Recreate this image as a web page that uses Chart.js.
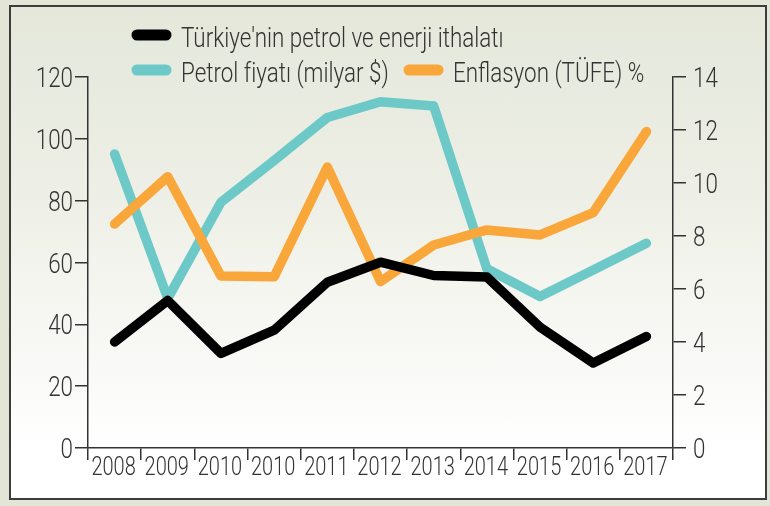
<!DOCTYPE html>
<html lang="tr">
<head>
  <meta charset="UTF-8">
  <title>Petrol, enerji ithalatı ve enflasyon</title>
  <script src="https://cdn.jsdelivr.net/npm/chart.js"></script>
  <style>
    html, body { margin: 0; padding: 0; }
    body { width: 770px; height: 506px; background: #e3e5d7; position: relative; overflow: hidden; }
    #frame {
      position: absolute; left: 9px; top: 5px; width: 758px; height: 495px;
      box-sizing: border-box; border: 2px solid #3c3c3c;
      background: linear-gradient(to bottom, #e4e7da 0%, #eef0e7 40%, #f8f9f5 70%, #ffffff 90%);
    }
    #chart { position: absolute; left: 0; top: 0; }
  </style>
</head>
<body>
<div id="frame"></div>
<canvas id="chart" width="770" height="506"></canvas>
<script>
  // values
  const years = ['2008', '2009', '2010', '2010', '2011', '2012', '2013', '2014', '2015', '2016', '2017'];
  const ithalat = [34.3, 47.7, 30.6, 38.1, 53.6, 60.1, 55.8, 55.3, 39.1, 27.5, 36.1];
  const petrolFiyati = [95.1, 48.4, 79.5, 93.0, 106.9, 112.0, 110.6, 58.0, 49.0, 57.6, 66.2];
  const enflasyon = [8.45, 10.24, 6.49, 6.46, 10.6, 6.28, 7.66, 8.23, 8.04, 8.88, 11.94];
  const leftTicks = [0, 20, 40, 60, 80, 100, 120];
  const rightTicks = [0, 2, 4, 6, 8, 10, 12, 14];

  const FONT = "Roboto, 'DejaVu Sans', sans-serif";
  const TEXT = '#333333';
  const AXIS = '#333333';
  const SQUEEZE = 0.8;   // the print uses a narrow face

  // draw text squeezed horizontally
  function narrowText(ctx, str, x, y, size, align) {
    ctx.save();
    ctx.font = '300 ' + size + 'px ' + FONT;
    ctx.fillStyle = TEXT;
    ctx.textBaseline = 'alphabetic';
    ctx.textAlign = align;
    ctx.translate(x, y);
    ctx.scale(SQUEEZE, 1);
    ctx.fillText(str, 0, 0);
    ctx.restore();
  }

  // two-row legend like the printed one
  const legendSpots = [
    { x: 131, y: 35 },
    { x: 131, y: 70 },
    { x: 403, y: 70 }
  ];
  const legendPlugin = {
    id: 'rowLegend',
    afterDraw(chart) {
      const ctx = chart.ctx;
      chart.data.datasets.forEach((ds, i) => {
        const p = legendSpots[i];
        ctx.save();
        ctx.strokeStyle = ds.borderColor;
        ctx.lineWidth = 11;
        ctx.lineCap = 'round';
        ctx.beginPath();
        ctx.moveTo(p.x + 6, p.y);
        ctx.lineTo(p.x + 35, p.y);
        ctx.stroke();
        ctx.restore();
        narrowText(ctx, ds.label, p.x + 50, p.y + 12, 28, 'left');
      });
    }
  };

  // tick labels, placed by the scales
  const tickLabelPlugin = {
    id: 'tickLabels',
    afterDraw(chart) {
      const ctx = chart.ctx;
      const sx = chart.scales.x, sy = chart.scales.y, sy1 = chart.scales.y1;
      years.forEach((lab, i) => {
        narrowText(ctx, lab, sx.getPixelForTick(i) - 1, sx.top + 27, 25, 'center');
      });
      leftTicks.forEach(v => {
        narrowText(ctx, String(v), sy.right - 15, sy.getPixelForValue(v) + 10, 28, 'right');
      });
      rightTicks.forEach(v => {
        narrowText(ctx, String(v), sy1.left + 20, sy1.getPixelForValue(v) + 10, 28, 'left');
      });
    }
  };

  const lineStyle = { borderWidth: 9.5, pointRadius: 0, borderCapStyle: 'round', borderJoinStyle: 'round', tension: 0, fill: false };

  new Chart(document.getElementById('chart'), {
    type: 'line',
    data: {
      labels: years,
      datasets: [
        Object.assign({ label: "Türkiye'nin petrol ve enerji ithalatı", data: ithalat, borderColor: '#000000', yAxisID: 'y', order: 1 }, lineStyle),
        Object.assign({ label: 'Petrol fiyatı (milyar $)', data: petrolFiyati, borderColor: '#6cc9c7', yAxisID: 'y', order: 3 }, lineStyle),
        Object.assign({ label: 'Enflasyon (TÜFE) %', data: enflasyon, borderColor: '#f9a73a', yAxisID: 'y1', order: 2 }, lineStyle)
      ]
    },
    options: {
      responsive: false,
      animation: false,
      devicePixelRatio: 1,
      layout: { padding: { top: 77, left: 0, right: 0, bottom: 0 } },
      plugins: { legend: { display: false }, tooltip: { enabled: false } },
      scales: {
        x: {
          offset: true,
          grid: { offset: true, drawOnChartArea: false, drawTicks: true, tickLength: 12, color: AXIS, lineWidth: 1.5 },
          border: { display: true, color: AXIS, width: 1.5 },
          ticks: { display: false, autoSkip: false },
          afterFit: s => { s.height = 58; }
        },
        y: {
          position: 'left',
          min: 0, max: 120,
          afterBuildTicks: s => { s.ticks = leftTicks.map(v => ({ value: v })); },
          grid: { drawOnChartArea: false, drawTicks: true, tickLength: 13, color: AXIS, lineWidth: 1.5 },
          border: { display: true, color: AXIS, width: 1.5 },
          ticks: { display: false },
          afterFit: s => { s.width = 88; }
        },
        y1: {
          position: 'right',
          min: 0, max: 14,
          afterBuildTicks: s => { s.ticks = rightTicks.map(v => ({ value: v })); },
          grid: { drawOnChartArea: false, drawTicks: true, tickLength: 13, color: AXIS, lineWidth: 1.5 },
          border: { display: true, color: AXIS, width: 1.5 },
          ticks: { display: false },
          afterFit: s => { s.width = 97; }
        }
      }
    },
    plugins: [legendPlugin, tickLabelPlugin]
  });
</script>
</body>
</html>
